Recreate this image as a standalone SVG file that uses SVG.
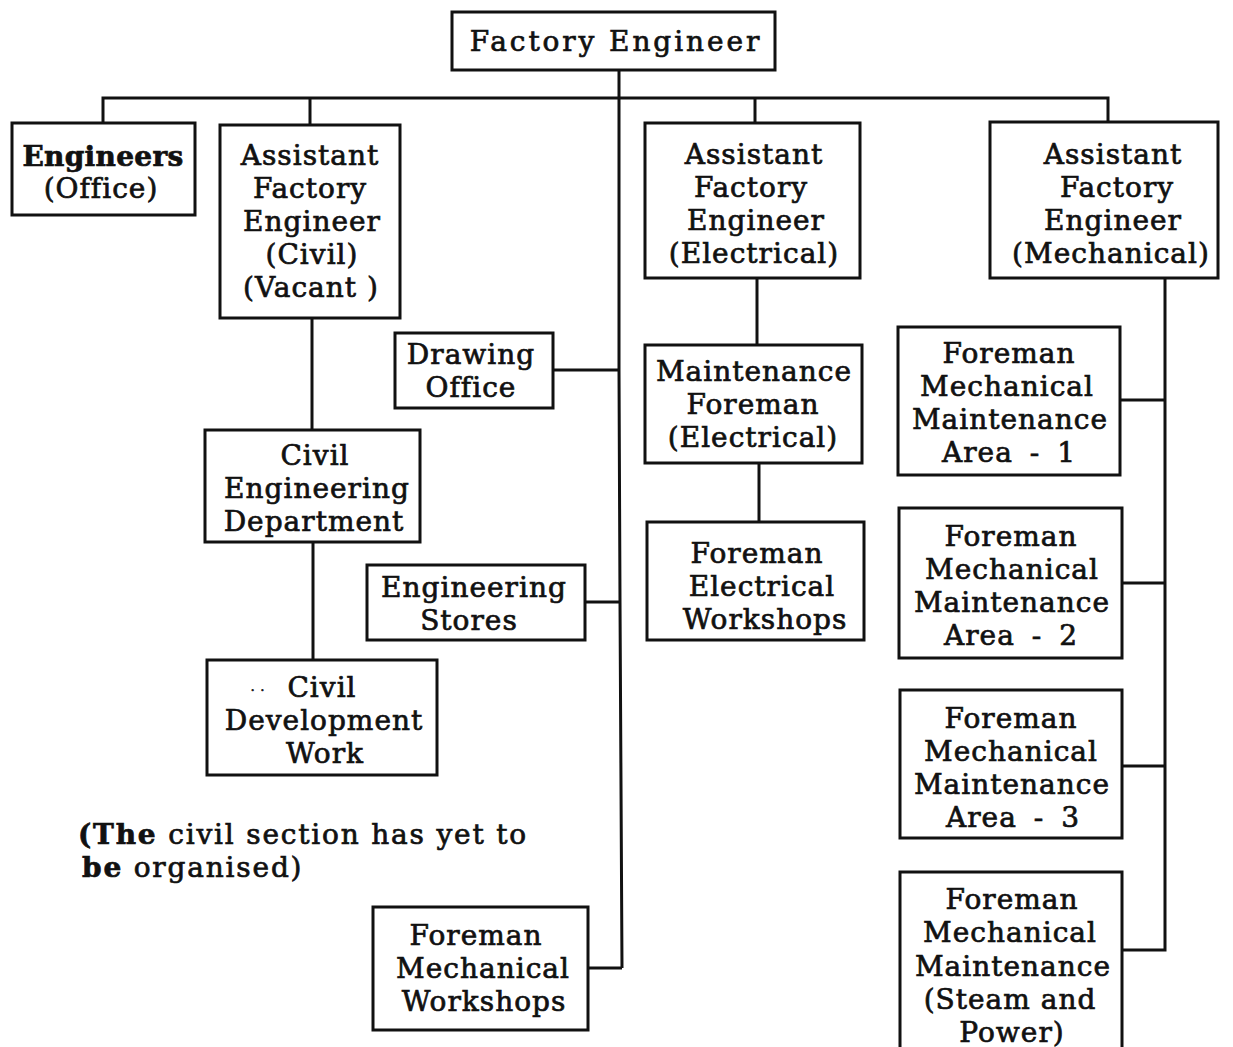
<svg xmlns="http://www.w3.org/2000/svg" width="1233" height="1047" viewBox="0 0 1233 1047">
  <style>
    .box { fill: #ffffff; stroke: #111111; stroke-width: 3; }
    .lbl { font-family: "DejaVu Serif", "Liberation Serif", serif; font-size: 28px; letter-spacing: 1px; fill: #111111; stroke: #111111; stroke-width: 0.7; text-anchor: middle; }
    .area { word-spacing: 7px; }
    .note { font-family: "DejaVu Serif", "Liberation Serif", serif; font-size: 28px; letter-spacing: 1.8px; fill: #111111; stroke: #111111; stroke-width: 0.7; }
    .b { font-weight: bold; }
    .wire { fill: none; stroke: #111111; stroke-width: 3; }
  </style>
  <rect width="1233" height="1047" fill="#ffffff"/>

  <!-- reporting lines -->
  <g id="connectors" class="wire">
    <!-- trunk from the factory engineer -->
    <polyline points="619,70 619,370 620,602 622,968"/>
    <!-- top bus and drops -->
    <polyline points="103,123 103,98 1108,98 1108,123"/>
    <line x1="310" y1="98" x2="310" y2="125"/>
    <line x1="755" y1="98" x2="755" y2="123"/>
    <!-- civil chain -->
    <line x1="312" y1="318" x2="312" y2="430"/>
    <line x1="313" y1="542" x2="313" y2="660"/>
    <!-- service units off the trunk -->
    <line x1="553" y1="370" x2="619" y2="370"/>
    <line x1="585" y1="602" x2="620" y2="602"/>
    <line x1="588" y1="968" x2="622" y2="968"/>
    <!-- electrical chain -->
    <line x1="757" y1="278" x2="757" y2="345"/>
    <line x1="759" y1="463" x2="759" y2="522"/>
    <!-- mechanical chain -->
    <polyline points="1165,278 1165,950 1122,950"/>
    <line x1="1120" y1="400" x2="1165" y2="400"/>
    <line x1="1122" y1="583" x2="1165" y2="583"/>
    <line x1="1122" y1="766" x2="1165" y2="766"/>
  </g>

  <g id="factory-engineer">
    <rect class="box" x="452" y="12" width="323" height="58"/>
    <text class="lbl" x="616" y="51" style="letter-spacing:2.9px">Factory Engineer</text>
  </g>

  <g id="engineers-office">
    <rect class="box" x="12" y="123" width="183" height="92"/>
    <text class="lbl" x="103" y="166" style="letter-spacing:0.3px"><tspan class="b">Engineers</tspan></text>
    <text class="lbl" x="101" y="198">(Office)</text>
  </g>

  <g id="afe-civil">
    <rect class="box" x="220" y="125" width="180" height="193"/>
    <text class="lbl" x="310" y="165">Assistant</text>
    <text class="lbl" x="310" y="198">Factory</text>
    <text class="lbl" x="312" y="231">Engineer</text>
    <text class="lbl" x="312" y="264">(Civil)</text>
    <text class="lbl" x="311" y="297">(Vacant )</text>
  </g>

  <g id="afe-electrical">
    <rect class="box" x="645" y="123" width="215" height="155"/>
    <text class="lbl" x="754" y="164">Assistant</text>
    <text class="lbl" x="751" y="197">Factory</text>
    <text class="lbl" x="756" y="230">Engineer</text>
    <text class="lbl" x="754" y="263">(Electrical)</text>
  </g>

  <g id="afe-mechanical">
    <rect class="box" x="990" y="122" width="228" height="156"/>
    <text class="lbl" x="1113" y="164">Assistant</text>
    <text class="lbl" x="1117" y="197">Factory</text>
    <text class="lbl" x="1113" y="230">Engineer</text>
    <text class="lbl" x="1111" y="263">(Mechanical)</text>
  </g>

  <g id="drawing-office">
    <rect class="box" x="395" y="333" width="158" height="75"/>
    <text class="lbl" x="471" y="364">Drawing</text>
    <text class="lbl" x="471" y="397">Office</text>
  </g>

  <g id="civil-engineering-department">
    <rect class="box" x="205" y="430" width="215" height="112"/>
    <text class="lbl" x="315" y="465">Civil</text>
    <text class="lbl" x="317" y="498">Engineering</text>
    <text class="lbl" x="314" y="531">Department</text>
  </g>

  <g id="civil-development-work">
    <rect class="box" x="207" y="660" width="230" height="115"/>
    <text class="lbl" x="258" y="691" style="font-size:12px">. .</text>
    <text class="lbl" x="322" y="697">Civil</text>
    <text class="lbl" x="324" y="730">Development</text>
    <text class="lbl" x="325" y="763">Work</text>
  </g>

  <g id="engineering-stores">
    <rect class="box" x="367" y="565" width="218" height="75"/>
    <text class="lbl" x="474" y="597">Engineering</text>
    <text class="lbl" x="469" y="630">Stores</text>
  </g>

  <g id="foreman-mechanical-workshops">
    <rect class="box" x="373" y="907" width="215" height="123"/>
    <text class="lbl" x="476" y="945">Foreman</text>
    <text class="lbl" x="483" y="978">Mechanical</text>
    <text class="lbl" x="484" y="1011">Workshops</text>
  </g>

  <g id="maintenance-foreman-electrical">
    <rect class="box" x="645" y="345" width="217" height="118"/>
    <text class="lbl" x="754" y="381">Maintenance</text>
    <text class="lbl" x="753" y="414">Foreman</text>
    <text class="lbl" x="753" y="447">(Electrical)</text>
  </g>

  <g id="foreman-electrical-workshops">
    <rect class="box" x="647" y="522" width="217" height="118"/>
    <text class="lbl" x="757" y="563">Foreman</text>
    <text class="lbl" x="762" y="596">Electrical</text>
    <text class="lbl" x="765" y="629">Workshops</text>
  </g>

  <g id="foreman-area-1">
    <rect class="box" x="898" y="327" width="222" height="148"/>
    <text class="lbl" x="1009" y="363">Foreman</text>
    <text class="lbl" x="1007" y="396">Mechanical</text>
    <text class="lbl" x="1010" y="429">Maintenance</text>
    <text class="lbl area" x="1009" y="462">Area - 1</text>
  </g>

  <g id="foreman-area-2">
    <rect class="box" x="899" y="508" width="223" height="150"/>
    <text class="lbl" x="1011" y="546">Foreman</text>
    <text class="lbl" x="1012" y="579">Mechanical</text>
    <text class="lbl" x="1012" y="612">Maintenance</text>
    <text class="lbl area" x="1011" y="645">Area - 2</text>
  </g>

  <g id="foreman-area-3">
    <rect class="box" x="900" y="690" width="222" height="148"/>
    <text class="lbl" x="1011" y="728">Foreman</text>
    <text class="lbl" x="1011" y="761">Mechanical</text>
    <text class="lbl" x="1012" y="794">Maintenance</text>
    <text class="lbl area" x="1013" y="827">Area - 3</text>
  </g>

  <g id="foreman-steam-power">
    <rect class="box" x="900" y="872" width="222" height="180"/>
    <text class="lbl" x="1012" y="909">Foreman</text>
    <text class="lbl" x="1010" y="942">Mechanical</text>
    <text class="lbl" x="1013" y="976">Maintenance</text>
    <text class="lbl" x="1010" y="1009">(Steam and</text>
    <text class="lbl" x="1012" y="1042">Power)</text>
  </g>

  <g id="civil-note">
    <text class="note" x="78" y="844"><tspan class="b">(The</tspan> civil section has yet to</text>
    <text class="note" x="82" y="877"><tspan class="b">be</tspan> organised)</text>
  </g>
</svg>
